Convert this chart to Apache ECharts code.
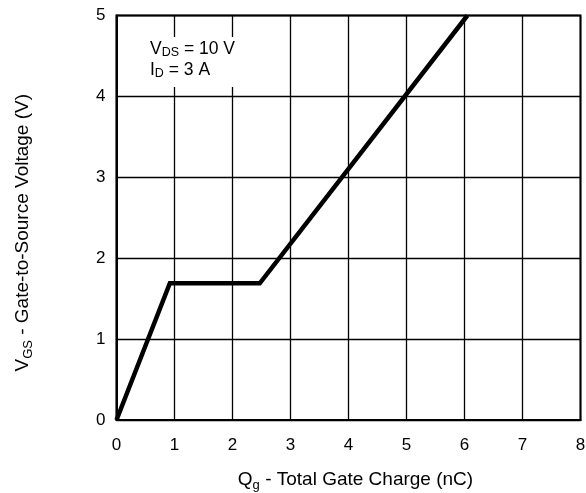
<!DOCTYPE html>
<html>
<head>
<meta charset="utf-8">
<script src="https://cdn.jsdelivr.net/npm/echarts@6/dist/echarts.min.js"></script>
<style>
  html, body { margin: 0; padding: 0; background: #fff; }
  #chart { width: 586px; height: 493px; }
</style>
</head>
<body>
<div id="chart"></div>
<script>
// Data
const chargeNC = [0, 0.92, 2.47, 6.05];
const gateVoltage = [0, 1.69, 1.69, 5];
const xTicks = [0, 1, 2, 3, 4, 5, 6, 7, 8];
const yTicks = [0, 1, 2, 3, 4, 5];
const noteLines = ['{n|V}{sub|DS}{n| = 10 V}', '{n|I}{sub|D}{n| = 3 A}'];

const FONT = 'Liberation Sans, Arial, Helvetica, sans-serif';
const pts = chargeNC.map((x, i) => [x, gateVoltage[i]]);

const chart = echarts.init(document.getElementById('chart'), null, { renderer: 'canvas' });

const nameRich = {
  n: { fontSize: 19, fontFamily: FONT, color: '#000', lineHeight: 24, verticalAlign: 'middle' },
  sub: { fontSize: 13, fontFamily: FONT, color: '#000', lineHeight: 13, verticalAlign: 'bottom' }
};
const noteRich = {
  n: { fontSize: 17.5, fontFamily: FONT, color: '#000', lineHeight: 21, verticalAlign: 'middle' },
  sub: { fontSize: 12.5, fontFamily: FONT, color: '#000', lineHeight: 12, verticalAlign: 'bottom' }
};

chart.setOption({
  animation: false,
  backgroundColor: '#fff',
  grid: {
    left: 116.5, right: 5.5, top: 15.5, bottom: 73,
    containLabel: false,
    outerBoundsMode: 'none',
    show: true, borderColor: '#000', borderWidth: 2, backgroundColor: 'transparent'
  },
  xAxis: {
    type: 'value', min: xTicks[0], max: xTicks[xTicks.length - 1], interval: 1,
    name: '{n|Q}{sub|g}{n| - Total Gate Charge (nC)}',
    nameLocation: 'middle', nameGap: 48,
    nameTextStyle: { fontSize: 19, fontFamily: FONT, color: '#000', rich: nameRich, padding: [0, 0, 0, 14] },
    axisLine: { show: true, lineStyle: { color: '#000', width: 2 } },
    axisTick: { show: false },
    axisLabel: { margin: 17, fontSize: 17, fontFamily: FONT, color: '#000' },
    splitLine: { show: true, lineStyle: { color: '#000', width: 1.3 } }
  },
  yAxis: {
    type: 'value', min: yTicks[0], max: yTicks[yTicks.length - 1], interval: 1,
    name: '{n|V}{sub|GS}{n| - Gate-to-Source Voltage (V)}',
    nameLocation: 'middle', nameGap: 82,
    nameTextStyle: { fontSize: 19, fontFamily: FONT, color: '#000', rich: nameRich, padding: [0, 30, 0, 0] },
    axisLine: { show: true, lineStyle: { color: '#000', width: 2 } },
    axisTick: { show: false },
    axisLabel: { margin: 11, fontSize: 17, fontFamily: FONT, color: '#000' },
    splitLine: { show: true, lineStyle: { color: '#000', width: 1.3 } }
  },
  graphic: [
    {
      type: 'rect', z: 50,
      shape: { x: 140, y: 37, width: 104, height: 50 },
      style: { fill: '#fff' }
    },
    {
      type: 'text', z: 51, left: 150, top: 40,
      style: {
        text: noteLines.join('\n'),
        rich: noteRich,
        fontSize: 17.5,
        fontFamily: FONT,
        fill: '#000'
      }
    }
  ],
  series: [{
    type: 'line',
    data: pts,
    symbol: 'none',
    z: 10,
    lineStyle: { color: '#000', width: 4.5, cap: 'butt', join: 'miter' }
  }]
});
</script>
</body>
</html>
